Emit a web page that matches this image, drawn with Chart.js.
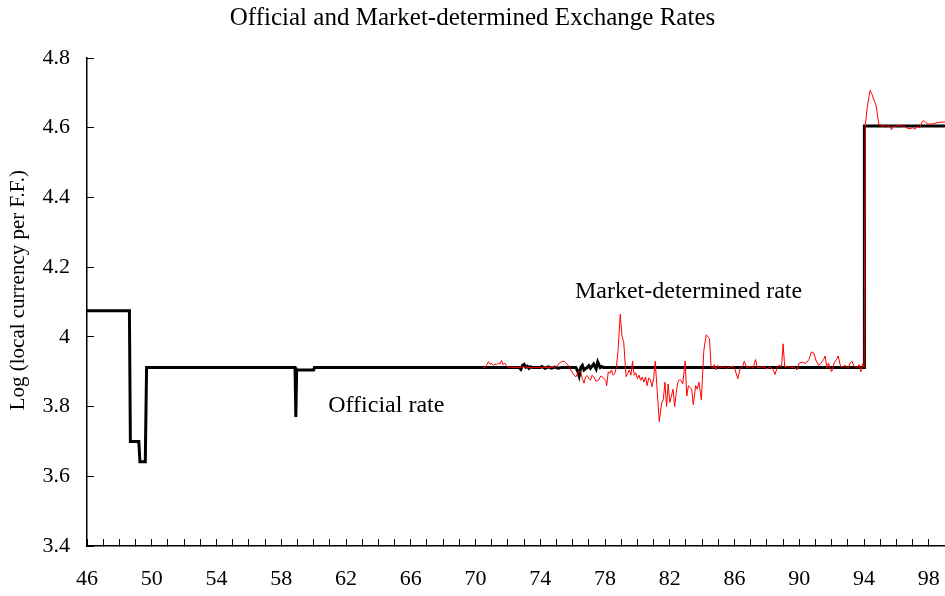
<!DOCTYPE html>
<html>
<head>
<meta charset="utf-8">
<title>Official and Market-determined Exchange Rates</title>
<script src="https://cdn.jsdelivr.net/npm/chart.js@4.4.1/dist/chart.umd.min.js"></script>
<style>
  body { margin: 0; background: #fff; }
</style>
</head>
<body>
<canvas id="rateChart" width="945" height="596"></canvas>
<script>
// official rate (log of local currency per French franc)
const officialYears = [
  46.0, 48.62, 48.68, 49.2, 49.27, 49.6, 49.68,
  58.85, 58.9, 58.95, 60.0, 60.05,
  72.7, 72.8, 72.9, 73.0, 73.1, 73.2, 73.3, 73.4, 73.5,
  74.0, 74.1, 74.3, 74.5, 74.7, 74.9, 75.1, 75.3,
  76.2, 76.3, 76.4, 76.5, 76.6, 76.7, 76.8, 76.9, 77.0, 77.1, 77.3, 77.45, 77.55, 77.7, 77.8, 77.9,
  94.0, 94.02, 99.0
];
const officialRates = [
  4.075, 4.075, 3.700, 3.700, 3.642, 3.642, 3.912,
  3.912, 3.770, 3.905, 3.905, 3.912,
  3.912, 3.907, 3.918, 3.921, 3.913, 3.916, 3.910, 3.914, 3.912,
  3.912, 3.915, 3.910, 3.914, 3.910, 3.913, 3.910, 3.912,
  3.912, 3.903, 3.888, 3.912, 3.918, 3.905, 3.909, 3.912, 3.917, 3.910, 3.922, 3.908, 3.928, 3.912, 3.915, 3.912,
  3.912, 4.605, 4.605
];

// market-determined (parallel) rate
const marketYears = [
  70.5, 70.6, 70.7, 70.8, 70.9, 71.0, 71.1, 71.2, 71.3, 71.4, 71.5, 71.6, 71.7, 71.8, 71.9, 72.0,
  72.5, 73.0, 73.5, 74.0, 74.5, 75.0, 75.2, 75.4, 75.5, 75.7, 75.8,
  76.0, 76.1, 76.2, 76.35, 76.5, 76.6, 76.7, 76.8, 76.9, 77.0, 77.1, 77.2, 77.3, 77.45, 77.6, 77.75, 77.9,
  78.05, 78.1, 78.2, 78.3, 78.4, 78.5, 78.6, 78.7, 78.8, 78.94, 79.05, 79.15, 79.3, 79.4, 79.5, 79.6, 79.7, 79.8, 79.9,
  80.0, 80.1, 80.2, 80.3, 80.4, 80.5, 80.6, 80.7, 80.8, 80.9, 81.0, 81.1, 81.2, 81.35, 81.5, 81.6, 81.7, 81.8, 81.9,
  82.0, 82.1, 82.2, 82.3, 82.4, 82.5, 82.6, 82.7, 82.8, 82.95, 83.05, 83.15, 83.25, 83.35, 83.45, 83.6, 83.7, 83.8, 83.95,
  84.1, 84.25, 84.35, 84.45, 84.55, 84.65, 84.75, 84.85, 84.95, 85.1, 85.3, 85.5, 85.7, 85.9,
  86.0, 86.2, 86.35, 86.5, 86.6, 86.75, 87.0, 87.15, 87.3, 87.4, 87.6, 87.8,
  88.0, 88.2, 88.4, 88.5, 88.65, 88.8, 88.9, 89.0, 89.1, 89.3, 89.5, 89.7, 89.85,
  90.0, 90.2, 90.4, 90.6, 90.75, 90.9, 91.05, 91.2, 91.35, 91.5, 91.6, 91.7, 91.8,
  92.0, 92.15, 92.3, 92.4, 92.55, 92.7, 92.85, 93.0, 93.15, 93.25, 93.4, 93.55, 93.7, 93.8, 93.9, 94.0,
  94.08, 94.2, 94.37, 94.5, 94.6, 94.74, 94.85, 94.92, 95.0, 95.1, 95.2, 95.3, 95.45, 95.6, 95.7, 95.8, 95.95,
  96.1, 96.3, 96.5, 96.7, 96.85, 97.0, 97.15, 97.3, 97.45, 97.6, 97.7, 97.8, 97.9, 98.05, 98.3, 98.6, 99.0
];
const marketRates = [
  3.912, 3.913, 3.920, 3.929, 3.922, 3.923, 3.918, 3.922, 3.920, 3.925, 3.922, 3.932, 3.920, 3.925, 3.918, 3.913,
  3.912, 3.914, 3.911, 3.913, 3.912, 3.914, 3.926, 3.930, 3.929, 3.920, 3.912,
  3.896, 3.890, 3.885, 3.900, 3.900, 3.880, 3.867, 3.885, 3.889, 3.880, 3.876, 3.890, 3.885, 3.872, 3.876, 3.888, 3.882,
  3.875, 3.860, 3.900, 3.895, 3.905, 3.890, 3.895, 3.912, 3.958, 4.065, 4.000, 3.987, 3.886, 3.895, 3.905, 3.890, 3.930, 3.890, 3.897,
  3.880, 3.890, 3.875, 3.885, 3.870, 3.885, 3.860, 3.882, 3.878, 3.857, 3.880, 3.930, 3.860, 3.757, 3.810, 3.820, 3.870, 3.800, 3.865,
  3.812, 3.830, 3.850, 3.800, 3.840, 3.870, 3.877, 3.875, 3.865, 3.930, 3.830, 3.860, 3.855, 3.850, 3.805, 3.860, 3.850, 3.870, 3.820,
  3.960, 4.006, 4.000, 3.995, 3.915, 3.910, 3.920, 3.905, 3.918, 3.912, 3.915, 3.910, 3.913, 3.916,
  3.910, 3.880, 3.910, 3.915, 3.930, 3.912, 3.915, 3.910, 3.935, 3.912, 3.912, 3.915,
  3.908, 3.913, 3.905, 3.892, 3.915, 3.918, 3.914, 3.980, 3.913, 3.916, 3.912, 3.913, 3.905,
  3.925, 3.927, 3.924, 3.935, 3.957, 3.953, 3.930, 3.918, 3.925, 3.935, 3.945, 3.910, 3.925,
  3.900, 3.925, 3.935, 3.945, 3.915, 3.915, 3.918, 3.910, 3.925, 3.930, 3.915, 3.912, 3.920, 3.900, 3.922, 3.912,
  4.608, 4.660, 4.707, 4.695, 4.680, 4.665, 4.630, 4.607, 4.610, 4.603, 4.608, 4.600, 4.607, 4.604, 4.594, 4.605, 4.603,
  4.607, 4.605, 4.604, 4.598, 4.597, 4.600, 4.596, 4.603, 4.600, 4.618, 4.620, 4.615, 4.612, 4.610, 4.612, 4.615, 4.617
];

const xLabelYears = [46, 50, 54, 58, 62, 66, 70, 74, 78, 82, 86, 90, 94, 98];
const yTickValues = [3.4, 3.6, 3.8, 4.0, 4.2, 4.4, 4.6, 4.8];

const serif = "'Liberation Serif', 'Times New Roman', serif";

function toPoints(xs, ys) {
  return xs.map(function(x, i) { return { x: x, y: ys[i] }; });
}

// text labels next to the two lines, plus the rotated y-axis caption
const lineLabels = {
  id: "lineLabels",
  afterDatasetsDraw: function(chart) {
    const ctx = chart.ctx;
    const x = chart.scales.x;
    const y = chart.scales.y;
    ctx.save();
    ctx.font = "24px " + serif;
    ctx.fillStyle = "#000";
    ctx.textBaseline = "alphabetic";
    ctx.fillText("Market-determined rate", x.getPixelForValue(76.14), y.getPixelForValue(4.111));
    ctx.fillText("Official rate", x.getPixelForValue(60.9), y.getPixelForValue(3.785));

    ctx.font = "21px " + serif;
    ctx.textAlign = "center";
    ctx.textBaseline = "middle";
    ctx.translate(18, y.getPixelForValue(4.134));
    ctx.rotate(-Math.PI / 2);
    ctx.fillText("Log (local currency per F.F.)", 0, 0);
    ctx.restore();
  }
};

document.addEventListener("DOMContentLoaded", function() {
  const rateChart = document.getElementById("rateChart").getContext("2d");
  new Chart(rateChart, {
    type: "line",
    data: {
      datasets: [{
        label: "Official rate",
        data: toPoints(officialYears, officialRates),
        borderColor: "#000000",
        borderWidth: 3,
        borderJoinStyle: "miter",
        pointRadius: 0,
        tension: 0,
        order: 2
      }, {
        label: "Market-determined rate",
        data: toPoints(marketYears, marketRates),
        borderColor: "#ff0000",
        borderWidth: 1,
        pointRadius: 0,
        tension: 0,
        order: 1
      }]
    },
    options: {
      responsive: false,
      animation: false,
      layout: { padding: 0 },
      plugins: {
        legend: { display: false },
        tooltip: { enabled: false },
        title: {
          display: true,
          text: "Official and Market-determined Exchange Rates",
          color: "#000",
          font: { family: serif, size: 25, weight: "normal" },
          padding: { top: 3, bottom: 25 }
        }
      },
      scales: {
        x: {
          type: "linear",
          min: 46,
          max: 99,
          afterBuildTicks: function(scale) {
            const ticks = [];
            for (let v = 46; v <= 99; v++) ticks.push({ value: v });
            scale.ticks = ticks;
          },
          afterFit: function(scale) {
            scale.height = 50;
            scale.paddingLeft = 0;
            scale.paddingRight = 0;
          },
          grid: { drawOnChartArea: false, tickLength: -7, color: "#000", lineWidth: 1 },
          border: { color: "#000", width: 1.5 },
          ticks: {
            autoSkip: false,
            maxRotation: 0,
            padding: 27,
            color: "#000",
            font: { family: serif, size: 22 },
            callback: function(v) { return xLabelYears.includes(v) ? String(v) : ""; }
          }
        },
        y: {
          min: 3.4,
          max: 4.8,
          afterBuildTicks: function(scale) {
            scale.ticks = yTickValues.map(function(v) { return { value: v }; });
          },
          afterFit: function(scale) { scale.width = 87; },
          grid: { drawOnChartArea: false, tickLength: -7, color: "#000", lineWidth: 1 },
          border: { color: "#000", width: 1.5 },
          ticks: {
            padding: 24,
            color: "#000",
            font: { family: serif, size: 22 },
            callback: function(v) { return String(Math.round(v * 10) / 10); }
          }
        }
      }
    },
    plugins: [lineLabels]
  });
});
</script>
</body>
</html>
